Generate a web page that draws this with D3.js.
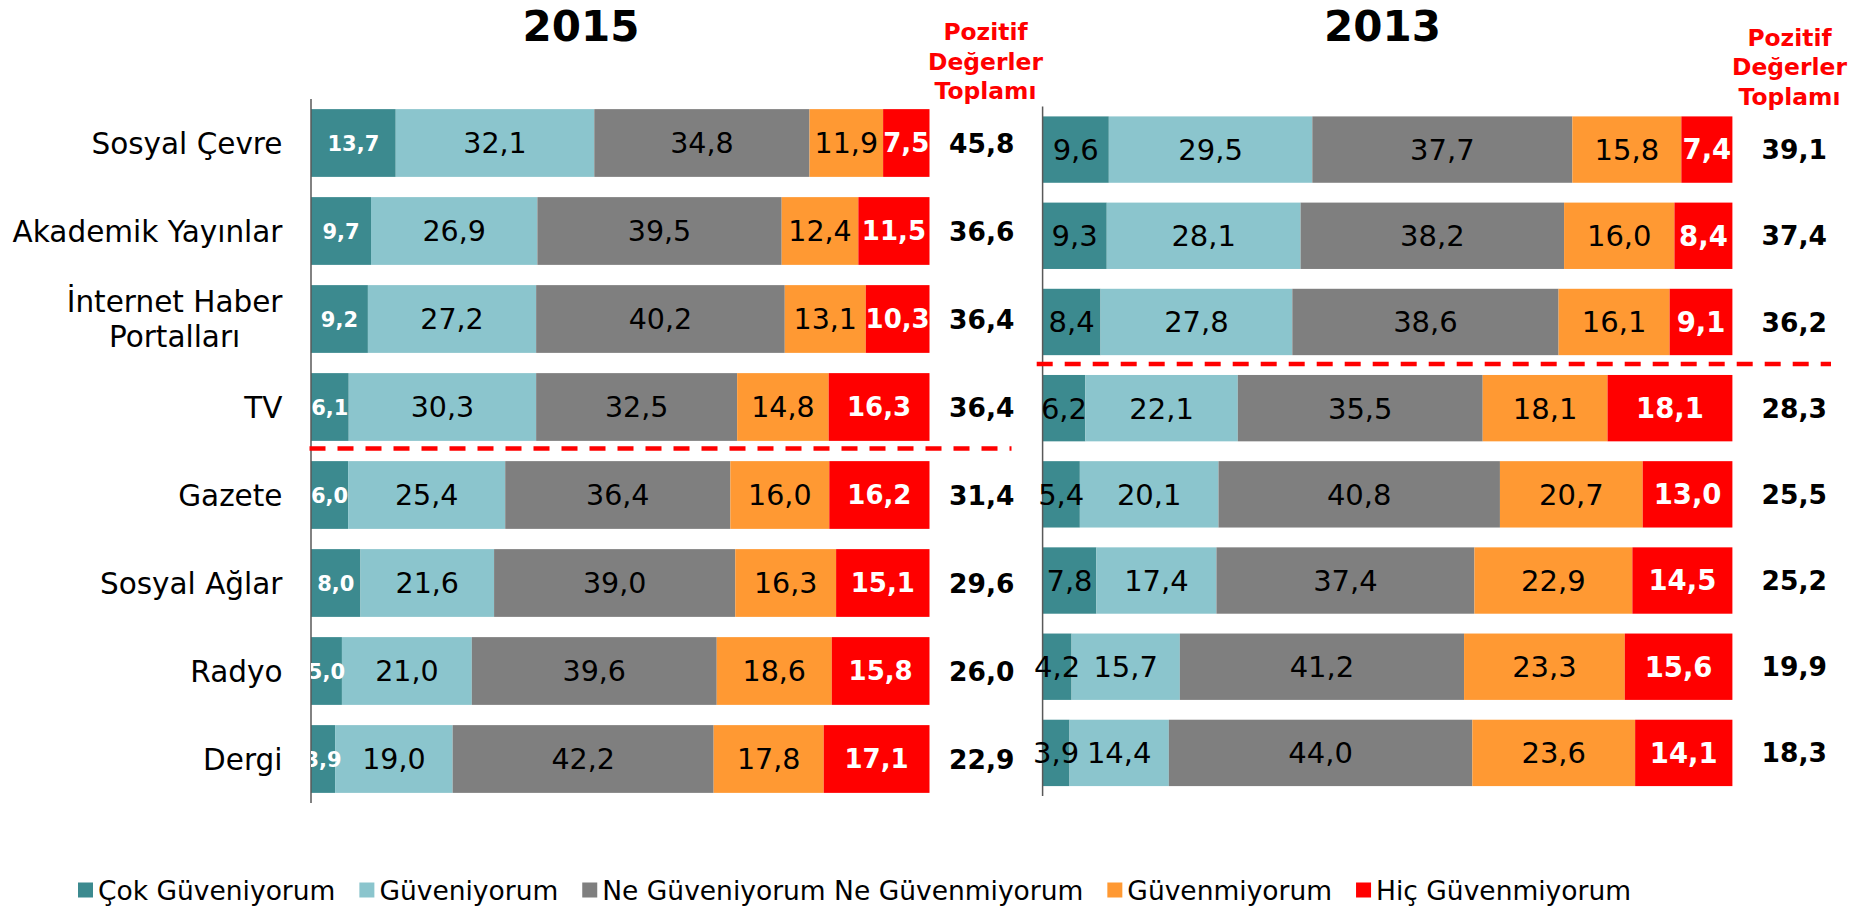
<!DOCTYPE html>
<html>
<head>
<meta charset="utf-8">
<script src="https://cdn.jsdelivr.net/npm/d3@7"></script>
<style>
  body { margin: 0; background: #fff; }
  svg { display: block; font-family: "DejaVu Sans", Verdana, sans-serif; }
</style>
</head>
<body>
<svg id="chart" width="1857" height="908"></svg>
<script>
// categories (top to bottom)
const categories = ["Sosyal Çevre", "Akademik Yayınlar", "İnternet Haber Portalları", "TV",
  "Gazete", "Sosyal Ağlar", "Radyo", "Dergi"];
const seriesNames = ["Çok Güveniyorum", "Güveniyorum", "Ne Güveniyorum Ne Güvenmiyorum",
  "Güvenmiyorum", "Hiç Güvenmiyorum"];
const colors = ["#3c8a8f", "#8bc5cd", "#7f7f7f", "#ff9933", "#ff0000"];

// 2015
const cok2015 = [13.7, 9.7, 9.2, 6.1, 6.0, 8.0, 5.0, 3.9];
const guven2015 = [32.1, 26.9, 27.2, 30.3, 25.4, 21.6, 21.0, 19.0];
const ne2015 = [34.8, 39.5, 40.2, 32.5, 36.4, 39.0, 39.6, 42.2];
const guvenmi2015 = [11.9, 12.4, 13.1, 14.8, 16.0, 16.3, 18.6, 17.8];
const hic2015 = [7.5, 11.5, 10.3, 16.3, 16.2, 15.1, 15.8, 17.1];
const pozitif2015 = [45.8, 36.6, 36.4, 36.4, 31.4, 29.6, 26.0, 22.9];

// 2013
const cok2013 = [9.6, 9.3, 8.4, 6.2, 5.4, 7.8, 4.2, 3.9];
const guven2013 = [29.5, 28.1, 27.8, 22.1, 20.1, 17.4, 15.7, 14.4];
const ne2013 = [37.7, 38.2, 38.6, 35.5, 40.8, 37.4, 41.2, 44.0];
const guvenmi2013 = [15.8, 16.0, 16.1, 18.1, 20.7, 22.9, 23.3, 23.6];
const hic2013 = [7.4, 8.4, 9.1, 18.1, 13.0, 14.5, 15.6, 14.1];
const pozitif2013 = [39.1, 37.4, 36.2, 28.3, 25.5, 25.2, 19.9, 18.3];

const svg = d3.select("#chart");
const fmt = v => d3.format(".1f")(v).replace(".", ",");

function drawPanel(o) {
  const g = svg.append("g");
  const x = d3.scaleLinear().domain([0, 100]).range([o.x0, o.x1]);
  const y = d3.scaleBand().domain(categories).range([o.y0, o.y1])
    .paddingInner(0.23).paddingOuter(0.115);

  const rows = categories.map((c, i) => {
    const r = { cat: c };
    o.series.forEach((s, k) => r[k] = s[i]);
    return r;
  });
  const stacked = d3.stack().keys(d3.range(5))(rows);

  stacked.forEach((layer, k) => {
    g.append("g").selectAll("rect")
      .data(layer)
      .join("rect")
      .attr("x", d => x(d[0]))
      .attr("y", d => y(d.data.cat))
      .attr("width", d => x(d[1]) - x(d[0]))
      .attr("height", y.bandwidth())
      .attr("fill", colors[k]);
  });

  // axis line
  g.append("line")
    .attr("x1", o.x0).attr("x2", o.x0)
    .attr("y1", o.y0).attr("y2", o.y1)
    .attr("stroke", "#595959").attr("stroke-width", 1.5);

  // segment labels
  const lab = g.append("g");
  if (o.clipId) {
    svg.append("clipPath").attr("id", o.clipId)
      .append("rect").attr("x", o.x0).attr("y", 0).attr("width", 2000).attr("height", 908);
    lab.attr("clip-path", `url(#${o.clipId})`);
  }
  stacked.forEach((layer, k) => {
    const st = o.labelStyle[k];
    lab.append("g").selectAll("text")
      .data(layer)
      .join("text")
      .attr("x", d => (x(d[0]) + x(d[1])) / 2)
      .attr("y", d => y(d.data.cat) + y.bandwidth() / 2)
      .attr("dy", "0.36em")
      .attr("text-anchor", "middle")
      .attr("font-size", st.size)
      .attr("font-weight", st.bold ? "bold" : "normal")
      .attr("fill", st.fill)
      .text(d => fmt(d[1] - d[0]));
  });

  // positive totals
  g.append("g").selectAll("text")
    .data(o.totals)
    .join("text")
    .attr("x", o.totalX)
    .attr("y", (d, i) => y(categories[i]) + y.bandwidth() / 2)
    .attr("dy", "0.36em")
    .attr("text-anchor", "end")
    .attr("font-size", 26.5)
    .attr("font-weight", "bold")
    .text(d => fmt(d));

  // header over totals
  g.append("text")
    .attr("x", o.headX)
    .attr("y", o.headY)
    .attr("text-anchor", "middle")
    .attr("font-size", 23.4)
    .attr("font-weight", "bold")
    .attr("fill", "#ff0000")
    .selectAll("tspan")
    .data(["Pozitif", "Değerler", "Toplamı"])
    .join("tspan")
    .attr("x", o.headX)
    .attr("dy", (d, i) => i ? 29.5 : 0)
    .text(d => d);

  // year title
  g.append("text")
    .attr("x", o.titleX).attr("y", 40.5)
    .attr("text-anchor", "middle")
    .attr("font-size", 42)
    .attr("font-weight", "bold")
    .text(o.title);

  // dashed separator
  const i = categories.indexOf(o.divider);
  const yd = (y(categories[i]) + y.bandwidth() + y(categories[i + 1])) / 2 + o.dashShift;
  g.append("line")
    .attr("x1", o.dashX0).attr("x2", o.dashX1)
    .attr("y1", yd).attr("y2", yd)
    .attr("stroke", "#ff0000").attr("stroke-width", 4.5)
    .attr("stroke-dasharray", "16 12");

  return y;
}

const y15 = drawPanel({
  title: "2015", titleX: 581,
  x0: 311, x1: 929.5, y0: 99, y1: 803,
  series: [cok2015, guven2015, ne2015, guvenmi2015, hic2015],
  totals: pozitif2015, totalX: 1014.5,
  headX: 985.5, headY: 40,
  divider: "TV", dashShift: -2.5, dashX0: 309.5, dashX1: 1011.5,
  clipId: "clip2015",
  labelStyle: [
    { size: 21, bold: true, fill: "#fff" },
    { size: 28.5, bold: false, fill: "#000" },
    { size: 28.5, bold: false, fill: "#000" },
    { size: 28.5, bold: false, fill: "#000" },
    { size: 26, bold: true, fill: "#fff" }
  ]
});

drawPanel({
  title: "2013", titleX: 1382.5,
  x0: 1042.6, x1: 1732.4, y0: 106.5, y1: 796,
  series: [cok2013, guven2013, ne2013, guvenmi2013, hic2013],
  totals: pozitif2013, totalX: 1827,
  headX: 1789.5, headY: 45.5,
  divider: "İnternet Haber Portalları", dashShift: -1, dashX0: 1036.7, dashX1: 1831,
  labelStyle: [
    { size: 29, bold: false, fill: "#000" },
    { size: 29, bold: false, fill: "#000" },
    { size: 29, bold: false, fill: "#000" },
    { size: 29, bold: false, fill: "#000" },
    { size: 27.5, bold: true, fill: "#fff" }
  ]
});

// category labels (left panel), wrapped lines are centred on each other
const labelX = 282.5;
svg.append("g").selectAll("text")
  .data(categories)
  .join("text")
  .attr("y", d => y15(d) + y15.bandwidth() / 2)
  .attr("font-size", 29.5)
  .each(function (d) {
    const parts = d === "İnternet Haber Portalları" ? ["İnternet Haber", "Portalları"] : [d];
    const t = d3.select(this);
    const spans = parts.map((p, j) => t.append("tspan")
      .attr("dy", j ? "1.19em" : `${0.36 - (parts.length - 1) * 0.595}em`)
      .text(p));
    const widest = d3.max(spans, s => s.node().getComputedTextLength());
    spans.forEach(s => s.attr("x", labelX - widest / 2).attr("text-anchor", "middle"));
  });

// legend
const legend = svg.append("g");
let lx = 78;
seriesNames.forEach((name, k) => {
  legend.append("rect")
    .attr("x", lx).attr("y", 882.5)
    .attr("width", 15).attr("height", 15)
    .attr("fill", colors[k]);
  const t = legend.append("text")
    .attr("x", lx + 20).attr("y", 890)
    .attr("dy", "0.36em")
    .attr("font-size", 26.5)
    .text(name);
  lx += 20 + t.node().getComputedTextLength() + 24;
});
</script>
</body>
</html>
